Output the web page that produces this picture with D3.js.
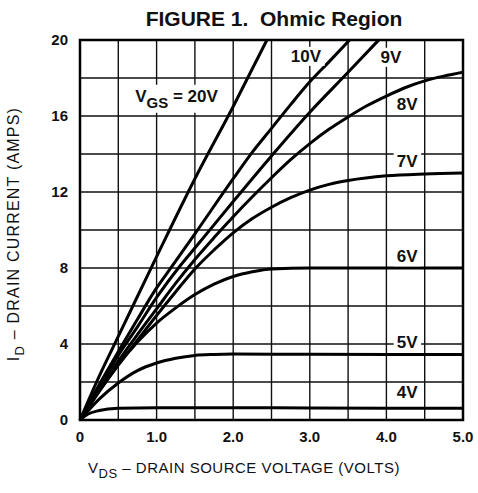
<!DOCTYPE html>
<html>
<head>
<meta charset="utf-8">
<script src="https://cdn.jsdelivr.net/npm/d3@7"></script>
<style>
  body { margin: 0; background: #fff; }
  text { font-family: "Liberation Sans", Arial, Helvetica, sans-serif; fill: #111; }
</style>
</head>
<body>
<div id="chart"></div>
<script>
// drain curves, [V_DS, I_D]
const vgs4 = [[0, 0], [0.1, 0.3], [0.25, 0.5], [0.5, 0.62], [1.0, 0.65], [2.0, 0.65], [3.0, 0.63], [5.0, 0.62]];
const vgs5 = [[0, 0], [0.25, 1.1], [0.5, 1.95], [0.75, 2.6], [1.0, 3.0], [1.25, 3.25], [1.5, 3.4], [1.75, 3.45], [2.0, 3.47], [3.0, 3.46], [5.0, 3.45]];
const vgs6 = [[0, 0], [0.25, 1.5], [0.5, 2.9], [0.75, 4.1], [1.0, 5.1], [1.25, 5.9], [1.5, 6.6], [1.75, 7.15], [2.0, 7.55], [2.25, 7.8], [2.5, 7.95], [3.0, 8.0], [5.0, 8.0]];
const vgs7 = [[0, 0], [0.25, 1.5], [0.5, 2.9], [0.75, 4.2], [1.0, 5.5], [1.25, 6.75], [1.5, 7.95], [1.75, 8.95], [2.0, 9.85], [2.25, 10.6], [2.5, 11.2], [2.75, 11.7], [3.0, 12.1], [3.25, 12.4], [3.5, 12.6], [4.0, 12.85], [4.5, 12.95], [5.0, 13.0]];
const vgs8 = [[0, 0], [0.25, 1.6], [0.5, 3.1], [0.75, 4.5], [1.0, 5.85], [1.25, 7.2], [1.5, 8.45], [1.75, 9.6], [2.0, 10.7], [2.25, 11.75], [2.5, 12.75], [2.75, 13.7], [3.0, 14.55], [3.25, 15.3], [3.5, 15.95], [3.75, 16.55], [4.0, 17.05], [4.25, 17.5], [4.5, 17.85], [4.75, 18.1], [5.0, 18.3]];
const vgs9 = [[0, 0], [0.25, 1.75], [0.5, 3.4], [0.75, 4.9], [1.0, 6.45], [1.3, 8.08], [1.5, 9.05], [2.0, 11.5], [2.5, 13.9], [3.0, 16.2], [3.5, 18.3], [3.9, 20]];
const vgs10 = [[0, 0], [0.25, 1.85], [0.5, 3.6], [0.75, 5.3], [1.0, 6.95], [1.2, 8.08], [1.5, 9.8], [2.0, 12.7], [2.25, 14.1], [2.5, 15.35], [2.75, 16.6], [3.0, 17.8], [3.25, 18.85], [3.52, 20]];
const vgs20 = [[0, 0], [0.25, 2.3], [0.5, 4.4], [1.0, 8.6], [1.5, 12.7], [2.0, 16.5], [2.44, 20]];

const curves = [vgs4, vgs5, vgs6, vgs7, vgs8, vgs9, vgs10, vgs20];

// curve labels: text, V_DS, I_D where they sit
const labelText = ['10V', '9V', '8V', '7V', '6V', '5V', '4V'];
const labelVds = [2.95, 4.06, 4.27, 4.27, 4.27, 4.27, 4.27];
const labelId = [18.85, 18.8, 16.3, 13.3, 8.3, 3.8, 1.15];

const xTicks = [0, 1, 2, 3, 4, 5];
const yTicks = [0, 4, 8, 12, 16, 20];

const width = 478, height = 493;
const margin = { top: 40, right: 15, bottom: 73, left: 80 };

const svg = d3.select('#chart').append('svg')
  .attr('width', width)
  .attr('height', height);

const x = d3.scaleLinear().domain([0, 5]).range([margin.left, width - margin.right]);
const y = d3.scaleLinear().domain([0, 20]).range([height - margin.bottom, margin.top]);

// grid
const grid = svg.append('g').attr('stroke', '#111').attr('stroke-width', 1.4);
grid.selectAll('.gx').data(d3.range(0.5, 5, 0.5)).enter().append('line')
  .attr('x1', d => x(d)).attr('x2', d => x(d))
  .attr('y1', y(0)).attr('y2', y(20));
grid.selectAll('.gy').data(d3.range(2, 20, 2)).enter().append('line')
  .attr('x1', x(0)).attr('x2', x(5))
  .attr('y1', d => y(d)).attr('y2', d => y(d));

// curves
const line = d3.line()
  .x(d => x(d[0]))
  .y(d => y(d[1]))
  .curve(d3.curveMonotoneX);

svg.append('g').selectAll('path').data(curves).enter().append('path')
  .attr('d', line)
  .attr('fill', 'none')
  .attr('stroke', '#000')
  .attr('stroke-width', 3)
  .attr('stroke-linejoin', 'round');

// frame
svg.append('rect')
  .attr('x', x(0)).attr('y', y(20))
  .attr('width', x(5) - x(0)).attr('height', y(0) - y(20))
  .attr('fill', 'none').attr('stroke', '#000').attr('stroke-width', 2.5);

// labels with white knock-out behind
const labels = svg.append('g');
labelText.forEach((t, i) => {
  const g = labels.append('g');
  const txt = g.append('text')
    .attr('x', x(labelVds[i])).attr('y', y(labelId[i]))
    .attr('text-anchor', 'middle')
    .style('font-size', '17px')
    .style('font-weight', 'bold')
    .text(t);
  const b = txt.node().getBBox();
  g.insert('rect', 'text')
    .attr('x', b.x - 3).attr('y', b.y)
    .attr('width', b.width + 6).attr('height', b.height)
    .attr('fill', '#fff');
});

const vg = labels.append('g');
const vgsText = vg.append('text')
  .attr('x', x(0.72)).attr('y', y(16.75))
  .style('font-size', '17px')
  .style('font-weight', 'bold');
vgsText.append('tspan').text('V');
vgsText.append('tspan').attr('dy', 6).style('font-size', '15px').text('GS');
vgsText.append('tspan').attr('dy', -6).text(' = 20V');
const vb = vgsText.node().getBBox();
vg.insert('rect', 'text')
  .attr('x', vb.x - 4).attr('y', vb.y - 2)
  .attr('width', vb.width + 8).attr('height', vb.height + 4)
  .attr('fill', '#fff');

// tick labels
svg.append('g').selectAll('text').data(yTicks).enter().append('text')
  .attr('x', x(0) - 12)
  .attr('y', d => y(d) + 5)
  .attr('text-anchor', 'end')
  .style('font-size', '15px')
  .style('font-weight', 'bold')
  .text(d => d);

svg.append('g').selectAll('text').data(xTicks).enter().append('text')
  .attr('x', d => x(d))
  .attr('y', y(0) + 22)
  .attr('text-anchor', 'middle')
  .style('font-size', '15px')
  .style('font-weight', 'bold')
  .text(d => d === 0 ? '0' : d.toFixed(1));

// title
svg.append('text')
  .attr('x', 274).attr('y', 26)
  .attr('text-anchor', 'middle')
  .style('font-size', '21px')
  .style('font-weight', 'bold')
  .text('FIGURE 1.\u00a0\u00a0Ohmic Region');

// axis titles
const xt = svg.append('text')
  .attr('x', 244).attr('y', 473)
  .attr('text-anchor', 'middle')
  .style('font-size', '15px')
  .style('letter-spacing', '0.5px');
xt.append('tspan').text('V');
xt.append('tspan').attr('dy', 5).style('font-size', '13px').text('DS');
xt.append('tspan').attr('dy', -5).text(' \u2013 DRAIN SOURCE VOLTAGE (VOLTS)');

const yt = svg.append('text')
  .attr('transform', 'translate(19,234) rotate(-90)')
  .attr('text-anchor', 'middle')
  .style('font-size', '16px')
  .style('letter-spacing', '1.2px');
yt.append('tspan').text('I');
yt.append('tspan').attr('dy', 5).style('font-size', '13px').text('D');
yt.append('tspan').attr('dy', -5).text(' \u2013 DRAIN CURRENT (AMPS)');
</script>
</body>
</html>
